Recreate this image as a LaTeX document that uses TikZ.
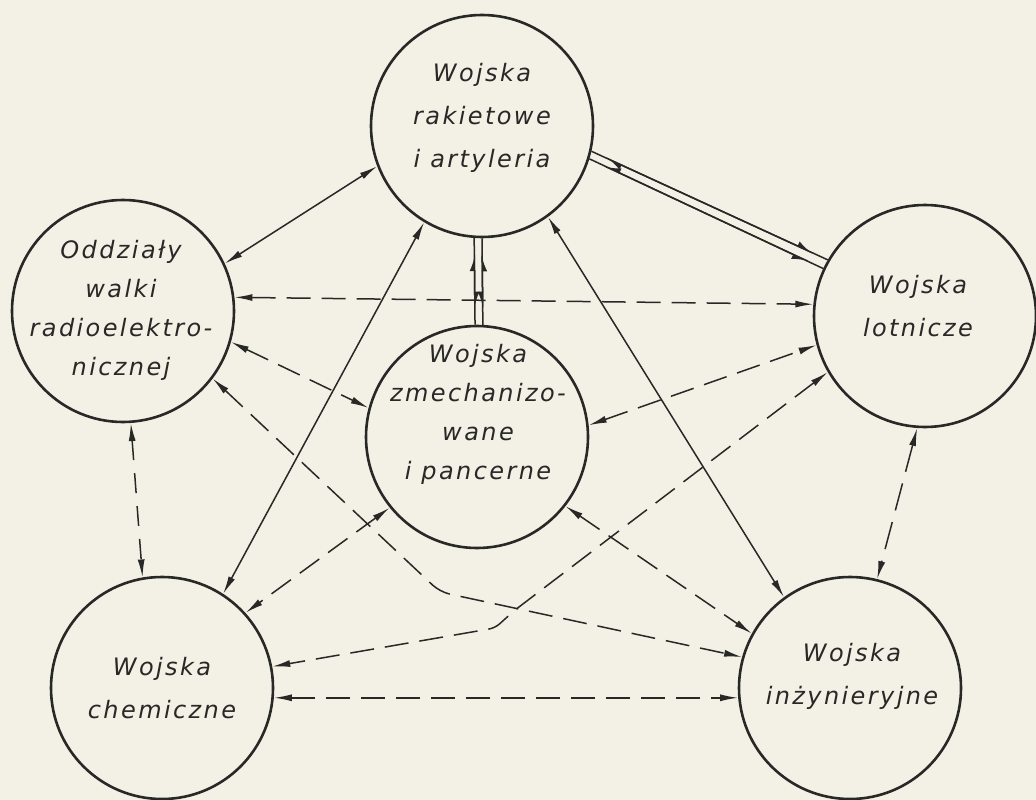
\documentclass[tikz,border=0pt]{standalone}
\usepackage{fontspec}
\newfontfamily\lbl{DejaVu Sans}[LetterSpace=10,ItalicFont={DejaVu Sans Oblique}]
\usetikzlibrary{arrows.meta,calc}
\definecolor{paper}{RGB}{243,241,230}
\definecolor{ink}{RGB}{40,40,38}
\tikzset{
 unit/.style={circle, draw=ink, line width=2.6pt, minimum size=222pt, inner sep=0pt},
 lab/.style={font=\lbl\itshape\fontsize{24}{43}\selectfont, align=center, text=ink, inner sep=0pt},
 labtight/.style={font=\lbl\itshape\fontsize{24}{39}\selectfont, align=center, text=ink, inner sep=0pt},
 link/.style={draw=ink, line width=1.5pt},
 both/.style={link, {Latex[length=18pt,width=7pt]}-{Latex[length=18pt,width=7pt]}},
 dsh/.style={dash pattern=on 24pt off 11pt},
 halfa/.style={link, {Latex[harpoon,length=14pt,width=10pt]}-{Latex[harpoon,length=14pt,width=10pt]}, shorten <=16pt, shorten >=16pt},
 halfb/.style={link, {Latex[harpoon,swap,length=14pt,width=10pt]}-{Latex[harpoon,swap,length=14pt,width=10pt]}, shorten <=16pt, shorten >=16pt},
}
\begin{document}
\begin{tikzpicture}[x=1pt,y=-1pt]
\fill[paper] (0,0) rectangle (1036,800);
\useasboundingbox (0,0) rectangle (1036,800);
\node[unit] (O) at (123,311) {};
\node[unit] (R) at (482,126) {};
\node[unit] (L) at (925,316) {};
\node[unit] (Z) at (477,437) {};
\node[unit] (C) at (162,688) {};
\node[unit] (I) at (850,688) {};
\node[labtight] (Ot) at (121,310) {Oddziały\\walki\\radioelektro-\\nicznej};
\node[lab] (Rt) at (482,118) {Wojska\\rakietowe\\i artyleria};
\node[lab] (Lt) at (918,306) {Wojska\\lotnicze};
\node[labtight] (Zt) at (478,414) {Wojska\\zmechanizo-\\wane\\i pancerne};
\node[lab] (Ct) at (162,688) {Wojska\\chemiczne};
\node[lab] (It) at (852,676) {Wojska\\inżynieryjne};
\coordinate (b1) at (440,592);
\coordinate (b2) at (515,610);
\coordinate (b3) at (495,628);
% solid
\draw[both] (O.25) -- (R.201);
\draw[both] (R.239) -- (C.57);
\draw[both] (R.-54) -- (I.126);
% double
\draw[link] (R.-13) -- (L.150);
\draw[halfa] (R.-13) -- (L.150);
\draw[link] (R.-17) -- (L.155);
\draw[halfb] (R.-17) -- (L.155);
\draw[link] (R.266) -- (Z.91);
\draw[halfa] (R.266) -- (Z.91);
\draw[link] (R.270) -- (Z.87);
\draw[halfb] (R.270) -- (Z.87);
% dashed
\draw[both,dsh] (O.7) -- (L.174);
\draw[both,dsh] (O.-16) -- (Z.165);
\draw[both,dash pattern=on 20pt off 13pt] (O.-86) -- (C.100);
\draw[both,dsh,rounded corners=10pt] (O.-37) -- (b1) -- (I.164);
\draw[both,dsh] (Z.6) -- (L.195);
\draw[both,dsh] (Z.219) -- (C.42);
\draw[both,dsh] (Z.-38) -- (I.151);
\draw[both,dsh,rounded corners=6pt] (L.210) -- (b2) -- (b3) -- (C.11);
\draw[both,dsh] (C.-5) -- (I.185);
\draw[both,dash pattern=on 28pt off 12pt] (L.266) -- (I.76);
\end{tikzpicture}
\end{document}
